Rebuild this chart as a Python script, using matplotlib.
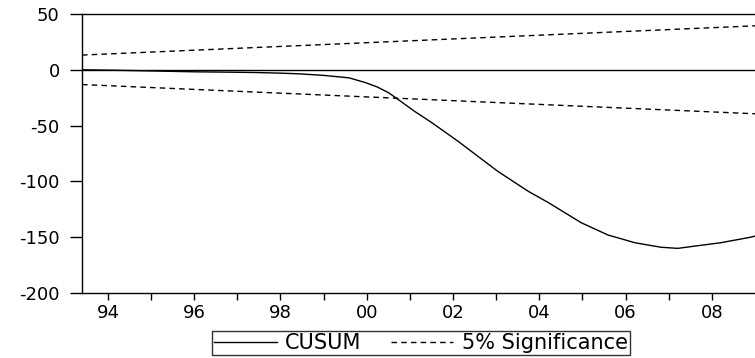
import matplotlib.pyplot as plt

# CUSUM test
years = [1993.4, 1994.0, 1995.0, 1996.0, 1997.0, 1997.5, 1998.0, 1998.43,
         1999.0, 1999.59, 1999.98, 2000.25, 2000.51, 2000.74, 2001.1,
         2001.51, 2002.13, 2002.59, 2003.05, 2003.75, 2004.21, 2004.97,
         2005.59, 2006.22, 2006.82, 2007.21, 2007.60, 2008.20, 2008.90, 2009.0]
cusum = [0.0, -0.3, -1.0, -1.8, -2.2, -2.5, -3.0, -3.6,
         -5.0, -7.2, -11.6, -15.5, -20.6, -26.9, -37.0,
         -47.4, -64.4, -77.9, -91.3, -109.0, -119.0, -137.0,
         -148.0, -155.0, -159.0, -160.0, -158.0, -155.0, -150.0, -149.0]

# 5% significance bands (straight lines between the two ends)
band_years = [1993.4, 2009.0]
upper_band = [13.2, 39.4]
lower_band = [-13.2, -39.4]

tick_years = list(range(1994, 2009))
tick_labels = [f"{y % 100:02d}" if y % 2 == 0 else "" for y in tick_years]
y_ticks = [50, 0, -50, -100, -150, -200]

fig = plt.figure(figsize=(7.55, 3.58), dpi=100)
ax = fig.add_axes([82 / 755, 1 - 293 / 358, 1 - 82 / 755, (293 - 14) / 358])

ax.plot(years, cusum, color="black", lw=1.0, label="CUSUM")
ax.plot(band_years, upper_band, color="black", lw=1.0, ls=(0, (4, 3)),
        label="5% Significance")
ax.plot(band_years, lower_band, color="black", lw=1.0, ls=(0, (4, 3)))
ax.axhline(0, color="black", lw=1.0)

ax.set_xlim(1993.4, 2009.0)
ax.set_ylim(-200, 50)
ax.set_xticks(tick_years)
ax.set_xticklabels(tick_labels)
ax.set_yticks(y_ticks)
ax.set_yticklabels([str(v) for v in y_ticks])

ax.spines["right"].set_visible(False)
for s in ["left", "top", "bottom"]:
    ax.spines[s].set_linewidth(1.0)
ax.tick_params(axis="y", direction="out", length=9, width=1, labelsize=13, pad=7)
ax.tick_params(axis="x", direction="out", length=5, width=1, labelsize=13, pad=3)
for lab in ax.get_xticklabels() + ax.get_yticklabels():
    lab.set_family("DejaVu Sans")

leg = fig.legend(loc="center", bbox_to_anchor=(421 / 755, 1 - 343 / 358),
                 ncol=2, frameon=True, fancybox=False, edgecolor="black",
                 prop={"family": "DejaVu Sans", "size": 15},
                 handlelength=3.0, handletextpad=0.4, columnspacing=1.4,
                 borderpad=0.1, borderaxespad=0)
leg.get_frame().set_linewidth(1.0)

fig.savefig("out.png", dpi=100)
